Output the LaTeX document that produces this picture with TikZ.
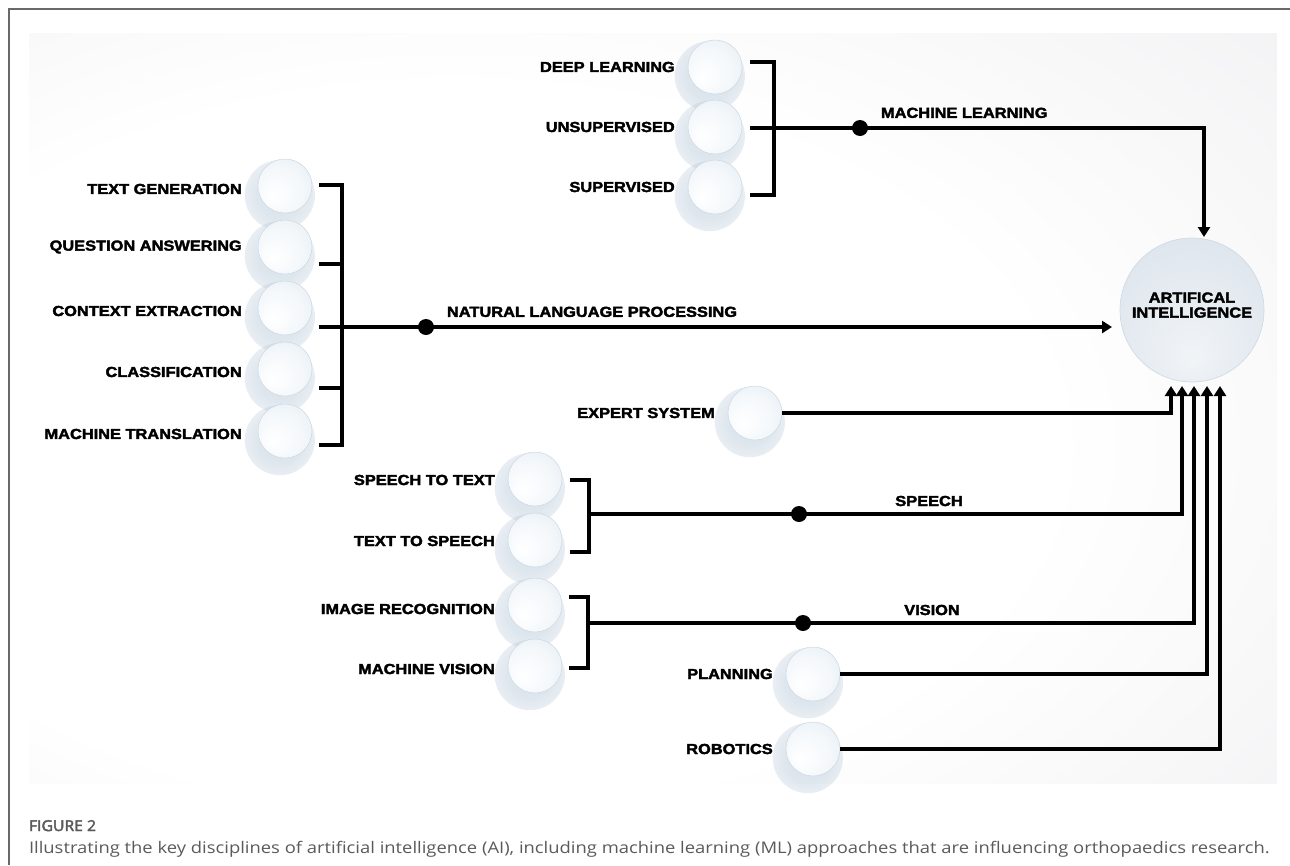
\documentclass[tikz,border=0pt]{standalone}
\usepackage{fontspec}
\setmainfont{Liberation Sans}
\newfontfamily\ailabelfont{Liberation Sans}[FakeStretch=1.13, FakeBold=2.5]
\newfontfamily\aicapfont{Open Sans}[FakeStretch=1.15]
\newfontfamily\aifigfont{Open Sans}[FakeStretch=1.05, FakeBold=3]
\usepackage{xcolor}
\usepackage{tikz}
\usetikzlibrary{arrows.meta,positioning,calc,fadings,shadows}
\definecolor{ai@ink}{RGB}{0,0,0}
\definecolor{ai@frame}{RGB}{105,105,105}
\definecolor{ai@panel}{RGB}{234,234,237}
\definecolor{ai@bubA}{RGB}{244,248,251}
\definecolor{ai@bubB}{RGB}{226,234,241}
\definecolor{ai@bubC}{RGB}{198,213,225}
\definecolor{ai@rim}{RGB}{205,216,226}
\definecolor{ai@shadow}{RGB}{165,188,208}
\definecolor{ai@coreA}{RGB}{241,244,247}
\definecolor{ai@coreB}{RGB}{219,227,235}
\definecolor{ai@coreC}{RGB}{233,238,242}
\definecolor{ai@caption}{RGB}{90,90,90}

% shadings for the bubbles, the core and the panel
\pgfdeclareradialshading{ai@bubshade}{\pgfpoint{-12bp}{-10bp}}{%
  color(0bp)=(white); color(22bp)=(ai@bubA); color(42bp)=(ai@bubB); color(50bp)=(ai@bubC)}
\pgfdeclareradialshading{ai@coreshade}{\pgfpoint{0bp}{-18bp}}{%
  color(0bp)=(ai@coreA); color(38bp)=(ai@coreB); color(47bp)=(ai@coreB); color(50bp)=(ai@coreC)}
\pgfdeclareradialshading{ai@panelshade}{\pgfpoint{-12bp}{-4bp}}{%
  color(0bp)=(white); color(24bp)=(white); color(54bp)=(ai@panel); color(72bp)=(ai@panel)}
\pgfdeclareradialshading{ai@shadowshade}{\pgfpointorigin}{%
  color(0bp)=(black!40); color(16bp)=(black!52); color(34bp)=(black!82); color(50bp)=(black)}
\pgfdeclarefading{ai@shadowfade}{\pgfuseshading{ai@shadowshade}}

\tikzset{
  aidiag/.style={
    x=1pt, y=-1pt,
    line width=4pt,
    every node/.style={font=\ailabelfont\bfseries\fontsize{14.5pt}{15pt}\selectfont}
  },
  bubble/.style={                  % small discipline bubble
    circle, minimum size=54pt, inner sep=0pt,
    draw=ai@rim, line width=0.5pt,
    shade, shading=ai@bubshade,
    drop shadow={shadow xshift=-4pt, shadow yshift=-7pt, shadow scale=1.3,
                 fill=ai@shadow, path fading=ai@shadowfade, opacity=0.75}
  },
  core/.style={                    % central AI bubble
    circle, minimum size=144pt, inner sep=0pt,
    draw=ai@rim, line width=0.6pt,
    shade, shading=ai@coreshade,
    align=center, text=ai@ink
  },
  tlabel/.style={inner sep=0pt, text=ai@ink},
  bracket/.style={draw=ai@ink, line width=4pt, line join=miter},
  arr/.style={draw=ai@ink, line width=4pt, line join=miter,
    -{Triangle[length=10pt,width=12pt]}},
  hubdot/.style={circle, fill=ai@ink, minimum size=16pt, inner sep=0pt},
  capstyle/.style={anchor=base west, inner sep=0pt, text=ai@caption}
}

\begin{document}
\begin{tikzpicture}[aidiag]
\useasboundingbox (0,0) rectangle (1290,865);

% Frame and background panel
\draw[ai@frame, line width=1.5pt] (9,865) -- (9,9) -- (1290,9);
\shade[shading=ai@panelshade] (29,33) rectangle (1277,783);

% Central bubble
\node[core] (ai) at (1192,310) {ARTIFICAL\\INTELLIGENCE\\[-5pt]};

% Machine learning group
\node[bubble] (dl)    at (715,67)  {};
\node[bubble] (unsup) at (715,127) {};
\node[bubble] (sup)   at (715,187) {};
\node[tlabel, left=11pt of dl]    {DEEP LEARNING};
\node[tlabel, left=11pt of unsup] {UNSUPERVISED};
\node[tlabel, left=11pt of sup]   {SUPERVISED};

% Natural language processing group
\node[bubble] (tg)  at (285,186) {};
\node[bubble] (qa)  at (285,247) {};
\node[bubble] (ce)  at (285,308) {};
\node[bubble] (cl)  at (285,369) {};
\node[bubble] (mt)  at (285,431) {};
\node[tlabel, left=14pt of tg, yshift=-3pt] {TEXT GENERATION};
\node[tlabel, left=14pt of qa] {QUESTION ANSWERING};
\node[tlabel, left=14pt of ce, yshift=-3pt] {CONTEXT EXTRACTION};
\node[tlabel, left=14pt of cl, yshift=-3pt] {CLASSIFICATION};
\node[tlabel, left=14pt of mt, yshift=-3pt] {MACHINE TRANSLATION};

% Expert system
\node[bubble] (es) at (755,413) {};
\node[tlabel, left=11pt of es] {EXPERT SYSTEM};

% Speech group
\node[bubble] (stt) at (535,479) {};
\node[bubble] (tts) at (535,540) {};
\node[tlabel, left=11pt of stt, yshift=-1pt] {SPEECH TO TEXT};
\node[tlabel, left=11pt of tts, yshift=-1pt] {TEXT TO SPEECH};

% Vision group
\node[bubble] (imr) at (535,605) {};
\node[bubble] (mv)  at (535,666) {};
\node[tlabel, left=11pt of imr, yshift=-4pt] {IMAGE RECOGNITION};
\node[tlabel, left=11pt of mv, yshift=-3pt]  {MACHINE VISION};

% Planning and robotics
\node[bubble] (plan) at (813,674) {};
\node[bubble] (robo) at (813,749) {};
\node[tlabel, left=11pt of plan] {PLANNING};
\node[tlabel, left=11pt of robo] {ROBOTICS};

% Brackets
\draw[bracket] (750,62) -- (774,62) -- (774,195) -- (750,195);
\draw[bracket] (319,185) -- (342,185) -- (342,445) -- (319,445);
\draw[bracket] (319,264) -- (342,264);
\draw[bracket] (319,388) -- (342,388);
\draw[bracket] (570,480) -- (589,480) -- (589,552) -- (570,552);
\draw[bracket] (569,597) -- (588,597) -- (588,668) -- (569,668);

% Hubs and arrow tips
\coordinate (mlhub)  at (750,128);
\coordinate (nlphub) at (319,327);
\coordinate (sphub)  at (589,514);
\coordinate (vihub)  at (588,623);
\coordinate (tipML)  at (1204,237);
\coordinate (tipNLP) at (1112,327);
\coordinate (tipES)  at (1171,386);
\coordinate (tipSP)  at (1182,386);
\coordinate (tipVI)  at (1194,386);
\coordinate (tipPL)  at (1207,386);
\coordinate (tipRO)  at (1220,386);

% Connectors into the central bubble
\draw[arr] (mlhub) -| (tipML);
\draw[arr] (nlphub) -- (tipNLP);
\draw[arr] (es) -| (tipES);
\draw[arr] (sphub) -| (tipSP);
\draw[arr] (vihub) -| (tipVI);
\draw[arr] (plan) -| (tipPL);
\draw[arr] (robo) -| (tipRO);

% Dots and line labels
\node[hubdot] (mldot)  at (860,128) {};
\node[hubdot] (nlpdot) at (426,327) {};
\node[hubdot] (spdot)  at (799,514) {};
\node[hubdot] (vidot)  at (803,623) {};
\node[tlabel, above right=8pt and 9pt of mldot.east]  {MACHINE LEARNING};
\node[tlabel, above right=8pt and 9pt of nlpdot.east] {NATURAL LANGUAGE PROCESSING};
\node[tlabel] (splabel) at (929,501) {SPEECH};
\node[tlabel] (vilabel) at (932,610) {VISION};

% Caption
\node[capstyle, font=\aifigfont\fontsize{15pt}{18pt}\selectfont] (fignum) at (27,831) {FIGURE 2};
\node[capstyle, font=\aicapfont\fontsize{16pt}{19pt}\selectfont] (figcap) at (27,853)
  {Illustrating the key disciplines of artificial intelligence (AI), including machine learning (ML) approaches that are influencing orthopaedics research.};

\end{tikzpicture}
\end{document}
